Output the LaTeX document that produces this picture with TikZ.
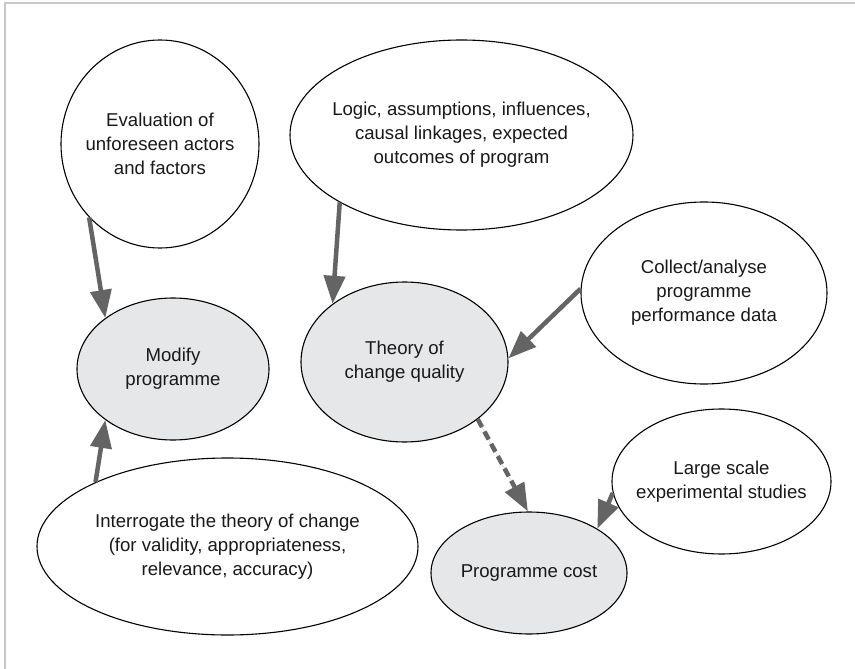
\documentclass[tikz,border=0pt]{standalone}
\usepackage{fontspec}
\setmainfont{Liberation Sans}
\usetikzlibrary{shapes.geometric,arrows.meta}
\definecolor{arrowgray}{HTML}{646464}
\definecolor{nodegray}{HTML}{E6E7E8}
\definecolor{framegray}{HTML}{C8C8C8}
\begin{document}
\begin{tikzpicture}[x=1pt,y=-1pt,
 ell/.style={ellipse, draw=black, line width=1.1pt, inner sep=0pt},
 plain/.style={ell, fill=white},
 shaded/.style={ell, fill=nodegray},
 lbl/.style={align=center, font=\fontsize{18.6}{24}\selectfont, text=black!90, inner sep=0pt},
 conn/.style={draw=arrowgray, fill=arrowgray, line width=4.5pt, -{Triangle[length=28pt,width=21pt]}},
 dconn/.style={conn, dash pattern=on 9pt off 5pt}]
\useasboundingbox (0,0) rectangle (855,669);
\draw[framegray, line width=1.5pt] (5,669) -- (5,3) -- (855,3);

\node[plain, minimum width=198pt, minimum height=208pt] (eval) at (160,144) {};
\node[plain, minimum width=343pt, minimum height=190pt] (logic) at (461.5,135) {};
\node[shaded, minimum width=207pt, minimum height=160pt] (theory) at (404.5,362) {};
\node[shaded, minimum width=192pt, minimum height=142pt] (modify) at (173,369) {};
\node[plain, minimum width=246pt, minimum height=182pt] (collect) at (704,293) {};
\node[plain, minimum width=219pt, minimum height=145pt] (large) at (721.5,481.5) {};
\node[shaded, minimum width=196pt, minimum height=122pt] (cost) at (529,573) {};
\node[plain, minimum width=381pt, minimum height=177pt] (interr) at (227.5,546.5) {};

\node[lbl] (evalT) at (eval) {Evaluation of\\unforeseen actors\\and factors};
\node[lbl] (logicT) at (logic) {Logic, assumptions, influences,\\causal linkages, expected\\outcomes of program};
\node[lbl] (theoryT) at (theory) {Theory of\\change quality};
\node[lbl] (modifyT) at (modify) {Modify\\programme};
\node[lbl] (collectT) at (collect) {Collect/analyse\\programme\\performance data};
\node[lbl] (largeT) at (large) {Large scale\\experimental studies};
\node[lbl] (costT) at (cost) {Programme cost};
\node[lbl] (interrT) at (interr) {Interrogate the theory of change\\(for validity, appropriateness,\\relevance, accuracy)};

\draw[conn] (eval.226) -- (modify.143);
\draw[conn] (logic.209) -- (theory.141.6);
\draw[conn] (collect.178) -- (theory.2);
\draw[dconn] (theory.322.7) -- (cost.91);
\draw[conn] (large.186) -- (cost.33.5);
\draw[conn] (interr.154) -- (modify.217);
\end{tikzpicture}
\end{document}
